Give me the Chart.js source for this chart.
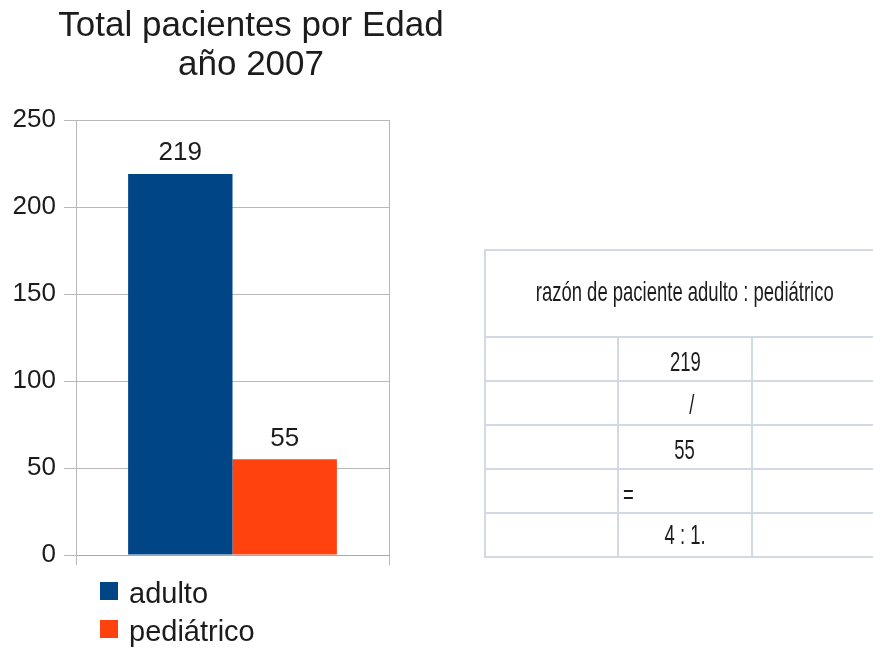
<!DOCTYPE html>
<html>
<head>
<meta charset="utf-8">
<title>Total pacientes por Edad</title>
<script src="https://cdn.jsdelivr.net/npm/chart.js@4.4.1/dist/chart.umd.min.js"></script>
<style>
  body { margin: 0; background: #fff; width: 873px; height: 648px; overflow: hidden; position: relative;
         font-family: "Liberation Sans", Arial, sans-serif; color: #1c1c1c; }
  #grafico { position: absolute; left: 0; top: 0; }
  .linea { position: absolute; background: #d3d9e4; }
  .celda { position: absolute; font-size: 28px; line-height: 28px; white-space: nowrap; }
  .celda span { display: inline-block; transform: scaleX(0.66); }
</style>
</head>
<body>
<canvas id="grafico" width="502" height="648"></canvas>
<div id="tabla"></div>
<script>
const categorias = [''];
const series = ['adulto', 'pediátrico'];
const adulto = [219];
const pediatrico = [55];
const colores = ['#004586', '#ff420e'];
const titulo = ['Total pacientes por Edad', 'año 2007'];
const yMin = 0, yMax = 250, yPaso = 50;

// tabla de la derecha
const encabezado = 'razón de paciente adulto : pediátrico';
const filas = ['219', '/', '55', '=', '4 : 1.'];

const fuente = '"Liberation Sans", Arial, sans-serif';
const texto = '#1c1c1c';

// valores sobre las barras
const etiquetasValor = {
  id: 'etiquetasValor',
  afterDatasetsDraw(chart) {
    const ctx = chart.ctx;
    ctx.save();
    ctx.font = '26px ' + fuente;
    ctx.fillStyle = texto;
    ctx.textAlign = 'center';
    ctx.textBaseline = 'alphabetic';
    chart.data.datasets.forEach((ds, i) => {
      chart.getDatasetMeta(i).data.forEach((bar, j) => {
        ctx.fillText(ds.data[j], bar.x, bar.y - 13.5);
      });
    });
    ctx.restore();
  }
};

// leyenda en columna, bajo el eje
const leyenda = {
  id: 'leyenda',
  afterDraw(chart) {
    const ctx = chart.ctx;
    const x0 = chart.chartArea.left + 24;
    ctx.save();
    ctx.font = '29px ' + fuente;
    ctx.textBaseline = 'alphabetic';
    chart.data.datasets.forEach((ds, i) => {
      const y = chart.chartArea.bottom + 27 + i * 38;
      ctx.fillStyle = ds.backgroundColor;
      ctx.fillRect(x0, y, 18, 18);
      ctx.fillStyle = texto;
      ctx.fillText(ds.label, x0 + 29, y + 21);
    });
    ctx.restore();
  }
};

new Chart(document.getElementById('grafico').getContext('2d'), {
  type: 'bar',
  data: {
    labels: categorias,
    datasets: [
      { label: series[0], data: adulto, backgroundColor: colores[0], categoryPercentage: 0.667, barPercentage: 1 },
      { label: series[1], data: pediatrico, backgroundColor: colores[1], categoryPercentage: 0.667, barPercentage: 1 }
    ]
  },
  options: {
    responsive: false,
    animation: false,
    layout: { padding: 0 },
    plugins: {
      legend: { display: false },
      tooltip: { enabled: false },
      title: {
        display: true,
        text: titulo,
        color: texto,
        font: { family: fuente, size: 35, weight: 'normal', lineHeight: 1.126 },
        padding: { top: 6.5, bottom: 34.7 }
      }
    },
    scales: {
      x: {
        grid: { offset: true, color: '#b8b8b8', tickLength: 10 },
        border: { color: '#a8a8a8' },
        ticks: { display: false },
        afterFit: (s) => { s.height = 93; }
      },
      y: {
        min: yMin,
        max: yMax,
        ticks: { stepSize: yPaso, color: texto, padding: 8, font: { family: fuente, size: 26 } },
        grid: { color: '#b8b8b8', tickLength: 12 },
        border: { color: '#b8b8b8' },
        afterFit: (s) => { s.width = 76; }
      },
      // eje vacío a la derecha: sólo reserva espacio para centrar el título
      yDer: {
        position: 'right',
        ticks: { display: false },
        grid: { display: false },
        border: { display: false },
        afterFit: (s) => { s.width = 113; }
      }
    }
  },
  plugins: [etiquetasValor, leyenda]
});

// tabla
const tabla = document.getElementById('tabla');
function linea(x, y, w, h) {
  const d = document.createElement('div');
  d.className = 'linea';
  Object.assign(d.style, { left: x + 'px', top: y + 'px', width: w + 'px', height: h + 'px' });
  tabla.appendChild(d);
}
function celda(txt, centro, base, align) {
  const d = document.createElement('div');
  d.className = 'celda';
  const x = align === 'left' ? centro : centro - 300;
  Object.assign(d.style, { left: x + 'px', width: '600px', top: (base - 24) + 'px', textAlign: align });
  const s = document.createElement('span');
  s.textContent = txt;
  if (align === 'left') s.style.transformOrigin = 'left center';
  d.appendChild(s);
  tabla.appendChild(d);
}
const filasY = [249, 336, 380, 424, 468, 512, 556];
filasY.forEach((y) => linea(485, y, 388, 2));
linea(484, 249, 2, 309);
linea(617, 336, 2, 222);
linea(751, 336, 2, 222);

celda(encabezado, 685, 302, 'center');
const bases = [372, 415, 460, 505, 545];
filas.forEach((t, i) => {
  if (t === '=') celda(t, 623, bases[i], 'left');
  else celda(t, t === '/' ? 692 : 685, bases[i], 'center');
});
</script>
</body>
</html>
